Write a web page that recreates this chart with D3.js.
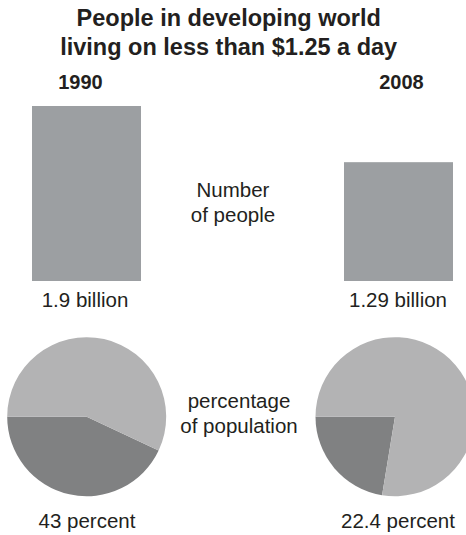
<!DOCTYPE html>
<html>
<head>
<meta charset="utf-8">
<script src="https://cdn.jsdelivr.net/npm/d3@7"></script>
<style>
  html, body { margin: 0; padding: 0; background: #fff; }
  svg { display: block; }
  text { font-family: "Liberation Sans", Arial, Helvetica, sans-serif; fill: #231f20; }
</style>
</head>
<body>
<script>
// Poverty headcount, developing world, under $1.25/day
const years = ["1990", "2008"];
const peopleBillions = [1.9, 1.29];
const peopleLabels = ["1.9 billion", "1.29 billion"];
const percentPoor = [43, 22.4];
const percentLabels = ["43 percent", "22.4 percent"];
const titleLines = ["People in developing world", "living on less than $1.25 a day"];
const middleLabels = [["Number", "of people"], ["percentage", "of population"]];

const W = 466, H = 535;
const barColor = "#9c9fa2";
const pieLight = "#b3b3b4";
const pieDark = "#808182";

const svg = d3.select("body").append("svg")
  .attr("width", W).attr("height", H);

// Column positions
const colX = d3.scalePoint().domain(years).range([86.5, 398.5]);
const pieX = d3.scalePoint().domain(years).range([86.7, 395]);

// Bar heights from value
const barBase = 281;
const barW = 109;
const h = d3.scaleLinear().domain([0, 1.9]).range([0, 175]);

// Title
svg.append("g").selectAll("text").data(titleLines).join("text")
  .attr("x", 228.7).attr("y", (d, i) => 26 + i * 29.2)
  .attr("text-anchor", "middle")
  .style("font-weight", "bold").style("font-size", "23.5px")
  .text(d => d);

// Year labels
svg.append("g").selectAll("text").data(years).join("text")
  .attr("x", (d, i) => i === 0 ? 80.5 : 401.5).attr("y", 88.5)
  .attr("text-anchor", "middle")
  .style("font-weight", "bold").style("font-size", "20px")
  .text(d => d);

// Bars
svg.append("g").selectAll("rect").data(years).join("rect")
  .attr("x", d => colX(d) - barW / 2)
  .attr("width", barW)
  .attr("y", (d, i) => barBase - h(peopleBillions[i]))
  .attr("height", (d, i) => h(peopleBillions[i]))
  .attr("fill", barColor);

// Bar value labels
svg.append("g").selectAll("text").data(years).join("text")
  .attr("x", (d, i) => i === 0 ? 85 : 398).attr("y", 306.5)
  .attr("text-anchor", "middle")
  .style("font-size", "20.5px")
  .text((d, i) => peopleLabels[i]);

// Pies: dark wedge ends at 9 o'clock, light wedge fills the rest
const pieCY = 416.7, pieR = 79.5;
const arc = d3.arc().innerRadius(0).outerRadius(pieR);
years.forEach((yr, i) => {
  const p = percentPoor[i];
  const start = 1.5 * Math.PI - p / 100 * 2 * Math.PI;
  const pie = d3.pie().sort(null).value(d => d.v)
    .startAngle(start).endAngle(start + 2 * Math.PI);
  const slices = pie([{ k: "poor", v: p }, { k: "rest", v: 100 - p }]);
  svg.append("g")
    .attr("transform", `translate(${pieX(yr)},${pieCY})`)
    .selectAll("path").data(slices).join("path")
    .attr("d", arc)
    .attr("fill", d => d.data.k === "poor" ? pieDark : pieLight);
});

// Pie labels
svg.append("g").selectAll("text").data(years).join("text")
  .attr("x", (d, i) => i === 0 ? 87 : 398).attr("y", 527.5)
  .attr("text-anchor", "middle")
  .style("font-size", "20.5px")
  .text((d, i) => percentLabels[i]);

// Middle row captions
const mid = svg.append("g");
[[233, 196.7], [239, 408.3]].forEach(([x, y], j) => {
  mid.append("g").selectAll("text").data(middleLabels[j]).join("text")
    .attr("x", x).attr("y", (d, i) => y + i * 25)
    .attr("text-anchor", "middle")
    .style("font-size", "20.5px")
    .text(d => d);
});
</script>
</body>
</html>
